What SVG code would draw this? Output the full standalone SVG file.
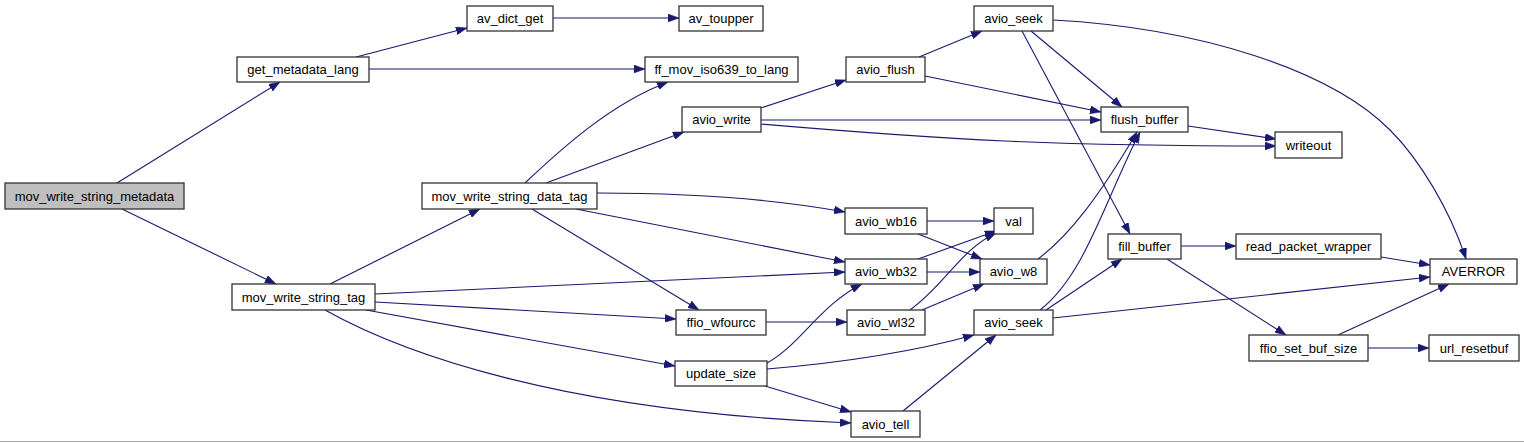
<svg xmlns="http://www.w3.org/2000/svg" width="1524" height="443" viewBox="0 0 1524 443">
<style>
.n rect{fill:#ffffff;stroke:#333333;stroke-width:1.3}
.n.root rect{fill:#bfbfbf}
.n text{font-family:"Liberation Sans",Arial,sans-serif;font-size:13px;fill:#000;text-anchor:middle}
#edges path{fill:none;stroke:#191970;stroke-width:1.1;marker-end:url(#ah)}
</style>
<defs>
<marker id="ah" viewBox="0 0 11 8" refX="11" refY="4" markerWidth="11" markerHeight="8" markerUnits="userSpaceOnUse" orient="auto">
<path d="M0,0 L11,4 L0,8 z" fill="#191970" stroke="#191970" stroke-width="0.5"/>
</marker>
</defs>
<rect x="0" y="0" width="1524" height="443" fill="#ffffff"/>
<line x1="0" y1="441.5" x2="1524" y2="441.5" stroke="#aaaaaa" stroke-width="1"/>
<g id="edges">
<path d="M117,183 L280,82"/>
<path d="M122,209 L276,284"/>
<path d="M356,57 L467,28"/>
<path d="M369,69 L645,69"/>
<path d="M553,18 L679,18"/>
<path d="M330,284 L480,209"/>
<path d="M375,294 L845,272"/>
<path d="M375,302 L676,319"/>
<path d="M366,310 L675,366"/>
<path d="M325,310 C400,352 560,412 851,423"/>
<path d="M525,183 C560,150 610,104 668,82"/>
<path d="M546,183 L684,132"/>
<path d="M597,193 C700,193 780,200 845,212"/>
<path d="M576,209 L845,262"/>
<path d="M532,209 L699,310"/>
<path d="M761,108 L846,80"/>
<path d="M761,120 L1101,120"/>
<path d="M761,124 C950,140 1050,146 1276,146"/>
<path d="M919,57 L982,31"/>
<path d="M925,76 L1101,112"/>
<path d="M1031,31 L1122,107"/>
<path d="M1022,31 L1130,234"/>
<path d="M1053,20 C1200,28 1330,70 1390,130 C1420,160 1450,210 1466,259"/>
<path d="M1188,126 L1276,139"/>
<path d="M927,221 L994,221"/>
<path d="M918,234 L982,259"/>
<path d="M918,259 L996,231"/>
<path d="M927,272 L980,272"/>
<path d="M910,310 C945,285 960,250 996,233"/>
<path d="M922,310 L984,284"/>
<path d="M767,363 C800,345 820,305 862,284"/>
<path d="M767,369 C850,362 920,350 974,335"/>
<path d="M765,386 L851,412"/>
<path d="M903,411 L996,335"/>
<path d="M766,322 L847,322"/>
<path d="M1038,259 C1070,235 1100,195 1137,132"/>
<path d="M1040,310 C1085,275 1105,200 1140,132"/>
<path d="M1046,310 L1122,259"/>
<path d="M1053,318 L1430,277"/>
<path d="M1181,246 L1236,246"/>
<path d="M1167,259 L1286,335"/>
<path d="M1381,257 L1430,265"/>
<path d="M1338,335 L1449,284"/>
<path d="M1368,348 L1429,348"/>
</g>
<g id="n_mov_write_string_metadata" class="n root"><rect x="5" y="183" width="179" height="26"/><text x="94.5" y="200.5">mov_write_string_metadata</text></g>
<g id="n_get_metadata_lang" class="n"><rect x="237" y="57" width="132" height="25"/><text x="303" y="74">get_metadata_lang</text></g>
<g id="n_mov_write_string_tag" class="n"><rect x="232" y="284" width="143" height="26"/><text x="303.5" y="301.5">mov_write_string_tag</text></g>
<g id="n_av_dict_get" class="n"><rect x="467" y="6" width="86" height="25"/><text x="510" y="23">av_dict_get</text></g>
<g id="n_av_toupper" class="n"><rect x="679" y="6" width="84" height="25"/><text x="721" y="23">av_toupper</text></g>
<g id="n_ff_mov_iso639_to_lang" class="n"><rect x="645" y="57" width="153" height="25"/><text x="721.5" y="74">ff_mov_iso639_to_lang</text></g>
<g id="n_avio_write" class="n"><rect x="682" y="107" width="79" height="25"/><text x="721.5" y="124">avio_write</text></g>
<g id="n_mov_write_string_data_tag" class="n"><rect x="422" y="183" width="175" height="26"/><text x="509.5" y="200.5">mov_write_string_data_tag</text></g>
<g id="n_ffio_wfourcc" class="n"><rect x="676" y="310" width="90" height="25"/><text x="721" y="327">ffio_wfourcc</text></g>
<g id="n_update_size" class="n"><rect x="675" y="361" width="92" height="25"/><text x="721" y="378">update_size</text></g>
<g id="n_avio_seek_1" class="n"><rect x="974" y="6" width="79" height="25"/><text x="1013.5" y="23">avio_seek</text></g>
<g id="n_avio_flush" class="n"><rect x="846" y="57" width="79" height="25"/><text x="885.5" y="74">avio_flush</text></g>
<g id="n_flush_buffer" class="n"><rect x="1101" y="107" width="87" height="25"/><text x="1144.5" y="124">flush_buffer</text></g>
<g id="n_writeout" class="n"><rect x="1275" y="132" width="67" height="26"/><text x="1308.5" y="149.5">writeout</text></g>
<g id="n_avio_wb16" class="n"><rect x="845" y="208" width="82" height="26"/><text x="886" y="225.5">avio_wb16</text></g>
<g id="n_val" class="n"><rect x="994" y="208" width="39" height="26"/><text x="1013.5" y="225.5">val</text></g>
<g id="n_avio_wb32" class="n"><rect x="845" y="259" width="82" height="25"/><text x="886" y="276">avio_wb32</text></g>
<g id="n_avio_w8" class="n"><rect x="980" y="259" width="67" height="25"/><text x="1013.5" y="276">avio_w8</text></g>
<g id="n_avio_wl32" class="n"><rect x="847" y="310" width="78" height="25"/><text x="886" y="327">avio_wl32</text></g>
<g id="n_avio_seek_2" class="n"><rect x="974" y="310" width="79" height="25"/><text x="1013.5" y="327">avio_seek</text></g>
<g id="n_avio_tell" class="n"><rect x="851" y="411" width="69" height="26"/><text x="885.5" y="428.5">avio_tell</text></g>
<g id="n_fill_buffer" class="n"><rect x="1108" y="234" width="73" height="25"/><text x="1144.5" y="251">fill_buffer</text></g>
<g id="n_read_packet_wrapper" class="n"><rect x="1236" y="234" width="145" height="25"/><text x="1308.5" y="251">read_packet_wrapper</text></g>
<g id="n_AVERROR" class="n"><rect x="1430" y="259" width="87" height="25"/><text x="1473.5" y="276">AVERROR</text></g>
<g id="n_ffio_set_buf_size" class="n"><rect x="1249" y="335" width="119" height="26"/><text x="1308.5" y="352.5">ffio_set_buf_size</text></g>
<g id="n_url_resetbuf" class="n"><rect x="1429" y="335" width="90" height="26"/><text x="1474" y="352.5">url_resetbuf</text></g>
</svg>
